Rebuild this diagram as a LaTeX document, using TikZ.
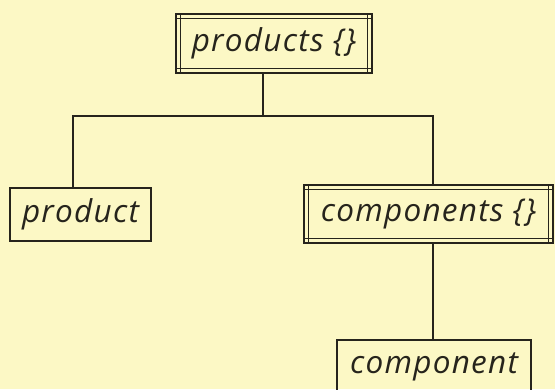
\documentclass[tikz,border=0pt]{standalone}
\usepackage{fontspec}
\setmainfont{Open Sans}
\newfontfamily\tagfamily[LetterSpace=4]{Open Sans}
\definecolor{paper}{RGB}{252,248,197}
\definecolor{ink}{RGB}{38,36,28}
\newcommand\labelfont{\tagfamily\fontsize{31.5}{34}\selectfont\itshape}
\tikzset{
  box/.style={draw=ink, line width=1.4pt, inner sep=0pt, font=\labelfont, text=ink},
  % set-valued element: outer frame plus inner rules running edge to edge
  setbox/.style={box, path picture={
      \draw[ink, line width=1.4pt]
        ([xshift=4.5pt]path picture bounding box.north west) -- ([xshift=4.5pt]path picture bounding box.south west)
        ([xshift=-4.5pt]path picture bounding box.north east) -- ([xshift=-4.5pt]path picture bounding box.south east)
        ([yshift=-4.5pt]path picture bounding box.north west) -- ([yshift=-4.5pt]path picture bounding box.north east)
        ([yshift=4.5pt]path picture bounding box.south west) -- ([yshift=4.5pt]path picture bounding box.south east);
    }},
  link/.style={draw=ink, line width=1.4pt}
}
\begin{document}
\begin{tikzpicture}[x=1pt, y=-1pt]
  \useasboundingbox (0,0) rectangle (555,389);
  \clip (0,0) rectangle (555,389);
  \fill[paper] (0,0) rectangle (555,389);

  \node[setbox, minimum width=196pt, minimum height=59pt] (products) at (274,43.5) {products \{\}};
  \node[box, minimum width=141pt, minimum height=53pt] (product) at (80.5,214.5) {product};
  \node[setbox, minimum width=249pt, minimum height=58pt] (components) at (428.5,214) {components \{\}};
  \node[box, minimum width=194pt, minimum height=53pt] (component) at (434,366.5) {component};

  \coordinate (hub) at (263,116);
  \coordinate (lft) at (73,116);
  \coordinate (rgt) at (433,116);

  \draw[link] (products.south -| hub) -- (hub);
  \draw[link] (lft |- product.north) -- (lft) -- (rgt) -- (rgt |- components.north);
  \draw[link] (rgt |- components.south) -- (rgt |- component.north);
\end{tikzpicture}
\end{document}
